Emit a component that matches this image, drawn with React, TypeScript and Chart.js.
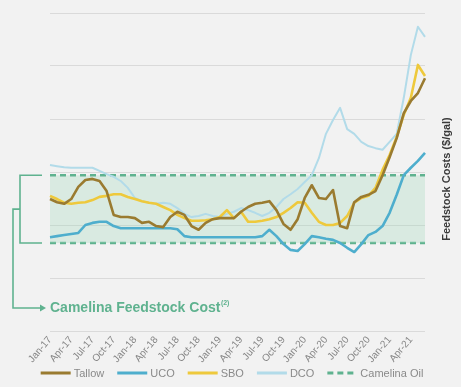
import React, { useEffect, useRef } from 'react';
import { Chart, registerables } from 'chart.js';

Chart.register(...registerables);

// Monthly observations, Jan 2017 – Jun 2021
const months = [
  'Jan-17', 'Feb-17', 'Mar-17', 'Apr-17', 'May-17', 'Jun-17', 'Jul-17', 'Aug-17', 'Sep-17', 'Oct-17', 'Nov-17', 'Dec-17',
  'Jan-18', 'Feb-18', 'Mar-18', 'Apr-18', 'May-18', 'Jun-18', 'Jul-18', 'Aug-18', 'Sep-18', 'Oct-18', 'Nov-18', 'Dec-18',
  'Jan-19', 'Feb-19', 'Mar-19', 'Apr-19', 'May-19', 'Jun-19', 'Jul-19', 'Aug-19', 'Sep-19', 'Oct-19', 'Nov-19', 'Dec-19',
  'Jan-20', 'Feb-20', 'Mar-20', 'Apr-20', 'May-20', 'Jun-20', 'Jul-20', 'Aug-20', 'Sep-20', 'Oct-20', 'Nov-20', 'Dec-20',
  'Jan-21', 'Feb-21', 'Mar-21', 'Apr-21', 'May-21', 'Jun-21',
];

// Feedstock costs, $/gal
const tallow = [
  2.49, 2.43, 2.40, 2.49, 2.72, 2.85, 2.87, 2.83, 2.64, 2.19,
  2.15, 2.15, 2.13, 2.04, 2.06, 1.98, 1.96, 2.15, 2.25, 2.19,
  1.98, 1.91, 2.04, 2.11, 2.13, 2.13, 2.13, 2.25, 2.34, 2.40,
  2.42, 2.45, 2.28, 2.02, 1.91, 2.11, 2.51, 2.75, 2.51, 2.49,
  2.66, 1.98, 1.94, 2.43, 2.53, 2.57, 2.64, 2.94, 3.28, 3.64,
  4.11, 4.34, 4.49, 4.77,
];
const uco = [
  1.77, 1.79, 1.81, 1.83, 1.85, 2.00, 2.04, 2.06, 2.06, 1.98,
  1.94, 1.94, 1.94, 1.94, 1.94, 1.94, 1.94, 1.94, 1.92, 1.79,
  1.77, 1.77, 1.77, 1.77, 1.77, 1.77, 1.77, 1.77, 1.77, 1.77,
  1.79, 1.91, 1.79, 1.64, 1.53, 1.51, 1.64, 1.79, 1.77, 1.74,
  1.72, 1.66, 1.57, 1.49, 1.64, 1.81, 1.87, 1.98, 2.23, 2.57,
  2.94, 3.08, 3.21, 3.36,
];
const sbo = [
  2.55, 2.49, 2.42, 2.40, 2.42, 2.43, 2.47, 2.53, 2.55, 2.58,
  2.58, 2.53, 2.49, 2.45, 2.42, 2.40, 2.34, 2.28, 2.19, 2.13,
  2.08, 2.08, 2.09, 2.11, 2.15, 2.28, 2.13, 2.25, 2.06, 2.06,
  2.08, 2.11, 2.15, 2.23, 2.32, 2.43, 2.42, 2.23, 2.06, 2.00,
  2.00, 2.04, 2.17, 2.42, 2.51, 2.55, 2.70, 3.04, 3.32, 3.66,
  4.08, 4.40, 5.02, 4.81,
];
const dco = [
  3.13, 3.11, 3.09, 3.08, 3.08, 3.08, 3.08, 3.02, 2.96, 2.91,
  2.83, 2.70, 2.51, 2.45, 2.42, 2.40, 2.42, 2.40, 2.32, 2.21,
  2.15, 2.17, 2.21, 2.17, 2.15, 2.21, 2.25, 2.32, 2.28, 2.23,
  2.17, 2.23, 2.34, 2.49, 2.58, 2.68, 2.81, 2.94, 3.26, 3.72,
  3.98, 4.21, 3.81, 3.72, 3.57, 3.49, 3.45, 3.42, 3.57, 3.72,
  4.40, 5.21, 5.74, 5.55,
];

// Camelina oil cost range, $/gal
const camelinaHigh = 2.94;
const camelinaLow = 1.66;

const seriesNames = ['Tallow', 'UCO', 'SBO', 'DCO', 'Camelina Oil'];
const yTitle = 'Feedstock Costs ($/gal)';
const calloutText = 'Camelina Feedstock Cost';
const calloutNote = '(2)';

const GREEN = '#5fb28f';
const FONT = '"Liberation Sans", Arial, sans-serif';

// Bracket, arrow and callout text for the camelina band, the rotated axis title and the legend row
const annotations = {
  id: 'annotations',
  afterDraw(chart: any) {
    const { ctx, scales } = chart;
    const y = scales.y;
    const top = y.getPixelForValue(camelinaHigh);
    const bottom = y.getPixelForValue(camelinaLow);
    const mid = (top + bottom) / 2;
    const calloutY = 308;

    ctx.save();
    ctx.strokeStyle = GREEN;
    ctx.fillStyle = GREEN;
    ctx.lineWidth = 1.6;
    ctx.setLineDash([]);

    ctx.beginPath();
    ctx.moveTo(42, top);
    ctx.lineTo(20, top);
    ctx.lineTo(20, bottom);
    ctx.lineTo(42, bottom);
    ctx.stroke();

    ctx.beginPath();
    ctx.moveTo(20, mid);
    ctx.lineTo(13, mid);
    ctx.lineTo(13, calloutY);
    ctx.lineTo(41, calloutY);
    ctx.stroke();

    ctx.beginPath();
    ctx.moveTo(46, calloutY);
    ctx.lineTo(40, calloutY - 3.5);
    ctx.lineTo(40, calloutY + 3.5);
    ctx.closePath();
    ctx.fill();

    ctx.font = `bold 14px ${FONT}`;
    ctx.textBaseline = 'middle';
    ctx.textAlign = 'left';
    ctx.fillText(calloutText, 50, calloutY);
    const w = ctx.measureText(calloutText).width;
    ctx.font = `bold 7px ${FONT}`;
    ctx.fillText(calloutNote, 50 + w + 0.5, calloutY - 5);
    ctx.restore();

    // axis title, reading bottom to top
    ctx.save();
    ctx.translate(447, 179);
    ctx.rotate(-Math.PI / 2);
    ctx.font = `bold 11px ${FONT}`;
    ctx.fillStyle = '#3a3a3a';
    ctx.textAlign = 'center';
    ctx.textBaseline = 'middle';
    ctx.fillText(yTitle, 0, 0);
    ctx.restore();

    // legend row
    const items = chart.data.datasets.filter((d: any) => d.label);
    const lineLen = 30;
    const textGap = 3;
    const itemGap = 13;
    ctx.save();
    ctx.font = `11px ${FONT}`;
    const widths = items.map((d: any) => lineLen + textGap + ctx.measureText(d.label).width);
    const total = widths.reduce((a: number, b: number) => a + b, 0) + itemGap * (items.length - 1);
    let x = 232 - total / 2;
    const ly = 373;
    items.forEach((d: any, i: number) => {
      ctx.strokeStyle = d.borderColor;
      ctx.lineWidth = 3;
      ctx.setLineDash(d.borderDash || []);
      ctx.beginPath();
      ctx.moveTo(x, ly);
      ctx.lineTo(x + lineLen, ly);
      ctx.stroke();
      ctx.setLineDash([]);
      ctx.fillStyle = '#8a8a8a';
      ctx.textAlign = 'left';
      ctx.textBaseline = 'middle';
      ctx.fillText(d.label, x + lineLen + textGap, ly + 0.5);
      x += widths[i] + itemGap;
    });
    ctx.restore();
  },
};

export default function App() {
  const canvasRef = useRef<HTMLCanvasElement | null>(null);

  useEffect(() => {
    if (!canvasRef.current) return;
    const first = months[0];
    const last = months[months.length - 1];
    const chart = new Chart(canvasRef.current, {
      type: 'line',
      data: {
        labels: months,
        datasets: [
          { label: seriesNames[0], data: tallow, borderColor: '#9a7b30', borderWidth: 2.6 },
          { label: seriesNames[1], data: uco, borderColor: '#4eaecd', borderWidth: 2.6 },
          { label: seriesNames[2], data: sbo, borderColor: '#eec93c', borderWidth: 2.6 },
          { label: seriesNames[3], data: dco, borderColor: '#b2dbe9', borderWidth: 2 },
          {
            label: seriesNames[4],
            data: [{ x: first, y: camelinaHigh }, { x: last, y: camelinaHigh }] as any,
            borderColor: GREEN,
            borderWidth: 2.5,
            borderDash: [6, 4],
            backgroundColor: 'rgba(160, 215, 185, 0.3)',
            fill: '+1',
          },
          {
            label: '',
            data: [{ x: first, y: camelinaLow }, { x: last, y: camelinaLow }] as any,
            borderColor: GREEN,
            borderWidth: 2.5,
            borderDash: [6, 4],
            fill: false,
          },
        ],
      },
      options: {
        responsive: false,
        animation: false,
        devicePixelRatio: 1,
        layout: { padding: { left: 50, right: 36, top: 13, bottom: 20 } },
        elements: {
          point: { radius: 0, hoverRadius: 0 },
          line: { tension: 0, borderJoinStyle: 'round', fill: false },
        },
        plugins: {
          tooltip: { enabled: false },
          legend: { display: false },
        },
        scales: {
          x: {
            offset: false,
            grid: { display: false },
            border: { display: false },
            afterFit: (scale: any) => { scale.height = 36; },
            ticks: {
              autoSkip: false,
              minRotation: 50,
              maxRotation: 50,
              padding: -5,
              color: '#858585',
              font: { family: FONT, size: 10 },
              callback: (_v: any, i: number) => (i % 3 === 0 ? months[i] : null),
            },
          },
          y: {
            min: 0,
            max: 6,
            grid: { color: '#dadada', lineWidth: 1, drawTicks: false },
            border: { display: false },
            ticks: { display: false, stepSize: 1 },
          },
        },
      },
      plugins: [annotations],
    });
    return () => chart.destroy();
  }, []);

  return (
    <div style={{ position: 'fixed', left: 0, top: 0, width: 461, height: 387, background: '#f2f2f2' }}>
      <canvas ref={canvasRef} width={461} height={387} style={{ display: 'block' }} />
    </div>
  );
}
